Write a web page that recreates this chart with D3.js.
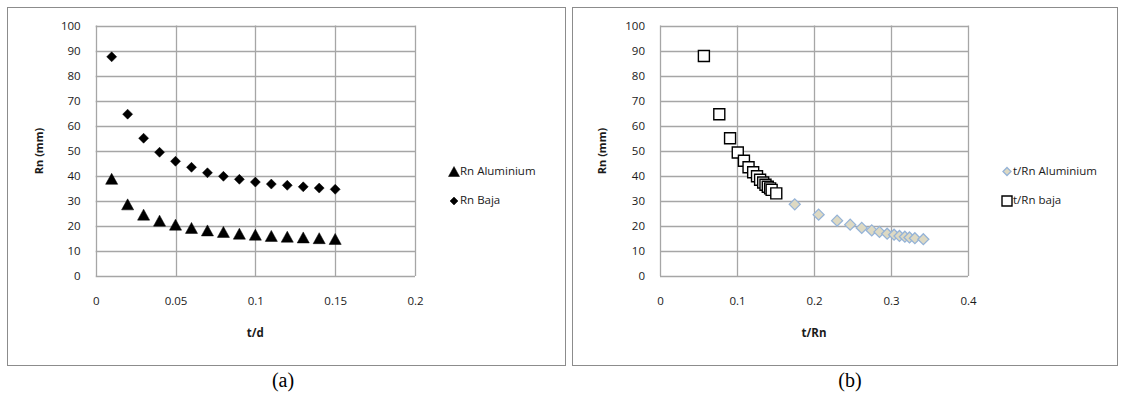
<!DOCTYPE html>
<html>
<head>
<meta charset="utf-8">
<script src="https://cdn.jsdelivr.net/npm/d3@7"></script>
<style>
    body { margin: 0; background: #fff; }
    text { font-family: "Open Sans", "Liberation Sans", sans-serif; }
</style>
</head>
<body>
<div id="chart-area"></div>
<script>

// data
let tdValues = [0.01, 0.02, 0.03, 0.04, 0.05, 0.06, 0.07, 0.08, 0.09, 0.10, 0.11, 0.12, 0.13, 0.14, 0.15];
let rnAluminium = [38.8, 28.6, 24.5, 22.1, 20.5, 19.2, 18.2, 17.6, 16.9, 16.5, 16.0, 15.7, 15.4, 15.1, 14.8];
let rnBaja = [87.5, 64.6, 55.0, 49.4, 45.8, 43.4, 41.2, 39.8, 38.6, 37.5, 36.7, 36.2, 35.6, 35.1, 34.6];

let tRnAluminiumX = [0.129, 0.175, 0.206, 0.230, 0.247, 0.262, 0.275, 0.285, 0.295, 0.304, 0.311, 0.318, 0.324, 0.331, 0.342];
let tRnAluminiumY = [38.8, 28.6, 24.5, 22.1, 20.5, 19.2, 18.2, 17.6, 16.9, 16.5, 16.0, 15.7, 15.4, 15.1, 14.7];
let tRnBajaX = [0.057, 0.077, 0.091, 0.101, 0.109, 0.115, 0.121, 0.126, 0.130, 0.134, 0.137, 0.140, 0.143, 0.145, 0.151];
let tRnBajaY = [87.8, 64.6, 55.0, 49.3, 46.0, 43.4, 41.4, 39.8, 38.4, 37.3, 36.4, 35.6, 35.0, 34.4, 33.0];

let yTicks = [0, 10, 20, 30, 40, 50, 60, 70, 80, 90, 100];
let xTicksA = [0, 0.05, 0.1, 0.15, 0.2];
let xTicksB = [0, 0.1, 0.2, 0.3, 0.4];

let width = 1123, height = 399;

let svg = d3.select("#chart-area").append("svg")
    .attr("width", width)
    .attr("height", height);

// marker shapes
function triangle(s) {
    return "M0," + (-s * 0.5) + "L" + (s * 0.55) + "," + (s * 0.5) + "L" + (-s * 0.55) + "," + (s * 0.5) + "Z";
}
function diamond(s) {
    let h = s / 2;
    return "M0," + (-h) + "L" + h + ",0L0," + h + "L" + (-h) + ",0Z";
}
function square(s) {
    let h = s / 2;
    return "M" + (-h) + "," + (-h) + "h" + s + "v" + s + "h" + (-s) + "Z";
}

function drawPanel(opt) {
    // outer frame
    svg.append("rect")
        .attr("x", opt.frame[0] + 0.5).attr("y", 7.5)
        .attr("width", opt.frame[1] - opt.frame[0]).attr("height", 358)
        .attr("fill", "none").attr("stroke", "#8c8c8c");

    let g = svg.append("g");

    let x = d3.scaleLinear().domain(opt.xDomain).range([opt.plotX[0], opt.plotX[1]]);
    let y = d3.scaleLinear().domain([0, 100]).range([276, 25.5]);

    // gridlines
    g.selectAll(".hgrid").data(yTicks).enter().append("line")
        .attr("x1", x.range()[0]).attr("x2", x.range()[1])
        .attr("y1", d => Math.round(y(d)) + 0.5).attr("y2", d => Math.round(y(d)) + 0.5)
        .attr("stroke", "#a6a6a6").attr("stroke-width", 1.3);
    g.selectAll(".vgrid").data(opt.xTicks).enter().append("line")
        .attr("y1", y(0)).attr("y2", y(100))
        .attr("x1", d => Math.round(x(d)) + 0.5).attr("x2", d => Math.round(x(d)) + 0.5)
        .attr("stroke", "#a6a6a6").attr("stroke-width", 1.3);

    // axes (labels only, no tick marks)
    let yAxis = d3.axisLeft(y).tickValues(yTicks).tickSize(0).tickPadding(15);
    let yg = g.append("g").attr("transform", "translate(" + x.range()[0] + ",0)").call(yAxis);
    let xAxis = d3.axisBottom(x).tickValues(opt.xTicks).tickSize(0).tickPadding(21).tickFormat(d => String(d));
    let xg = g.append("g").attr("transform", "translate(0," + y(0) + ")").call(xAxis);
    [yg, xg].forEach(a => {
        a.select(".domain").remove();
        a.selectAll("text").attr("font-size", 11.5).attr("fill", "#1a1a1a")
            .style("font-family", "'Open Sans', sans-serif");
    });

    // axis titles
    svg.append("text")
        .attr("transform", "translate(" + opt.yTitleX + ",151) rotate(-90)")
        .attr("text-anchor", "middle").attr("dominant-baseline", "middle")
        .attr("font-size", 11).attr("font-weight", "bold").attr("fill", "#1a1a1a")
        .text("Rn (mm)");
    svg.append("text")
        .attr("x", (x.range()[0] + x.range()[1]) / 2).attr("y", 334)
        .attr("text-anchor", "middle").attr("dominant-baseline", "middle")
        .attr("font-size", 11.5).attr("font-weight", "bold").attr("fill", "#1a1a1a")
        .text(opt.xTitle);

    // series
    opt.series.forEach(s => {
        g.selectAll(null).data(s.xs).enter().append("path")
            .attr("transform", (d, i) => "translate(" + x(d) + "," + y(s.ys[i]) + ")")
            .attr("d", s.shape(s.size))
            .attr("fill", s.fill).attr("stroke", s.stroke).attr("stroke-width", s.sw);
    });

    // legend
    opt.series.forEach((s, i) => {
        let ly = 171.5 + i * 29.5;
        svg.append("path")
            .attr("transform", "translate(" + opt.legX + "," + ly + ")")
            .attr("d", s.shape(s.legSize))
            .attr("fill", s.fill).attr("stroke", s.stroke).attr("stroke-width", s.sw);
        svg.append("text")
            .attr("x", opt.legX + 6).attr("y", ly)
            .attr("dominant-baseline", "middle")
            .attr("font-size", 11.5).attr("fill", "#1a1a1a")
            .text(s.name);
    });

    // caption
    svg.append("text")
        .attr("x", opt.capX).attr("y", 382)
        .attr("text-anchor", "middle").attr("dominant-baseline", "middle")
        .attr("font-size", 20).attr("fill", "#000")
        .style("font-family", "'Liberation Serif', 'Times New Roman', serif")
        .text(opt.caption);
}

drawPanel({
    frame: [7, 565],
    plotX: [95.7, 415],
    xDomain: [0, 0.2],
    xTicks: xTicksA,
    yTitleX: 40,
    xTitle: "t/d",
    legX: 454,
    capX: 283,
    caption: "(a)",
    series: [
        {name: "Rn Aluminium", xs: tdValues, ys: rnAluminium, shape: triangle, size: 11, legSize: 10,
            fill: "#000", stroke: "#000", sw: 0.5},
        {name: "Rn Baja", xs: tdValues, ys: rnBaja, shape: diamond, size: 10, legSize: 8,
            fill: "#000", stroke: "#000", sw: 0.5}
    ]
});

drawPanel({
    frame: [572, 1117],
    plotX: [660, 968],
    xDomain: [0, 0.4],
    xTicks: xTicksB,
    yTitleX: 603,
    xTitle: "t/Rn",
    legX: 1007,
    capX: 850,
    caption: "(b)",
    series: [
        {name: "t/Rn Aluminium", xs: tRnAluminiumX, ys: tRnAluminiumY, shape: diamond, size: 11, legSize: 8,
            fill: "#ddd9c3", stroke: "#95b3d7", sw: 1.3},
        {name: "t/Rn baja", xs: tRnBajaX, ys: tRnBajaY, shape: square, size: 11, legSize: 10,
            fill: "#fff", stroke: "#000", sw: 1.4}
    ]
});

</script>
</body>
</html>
